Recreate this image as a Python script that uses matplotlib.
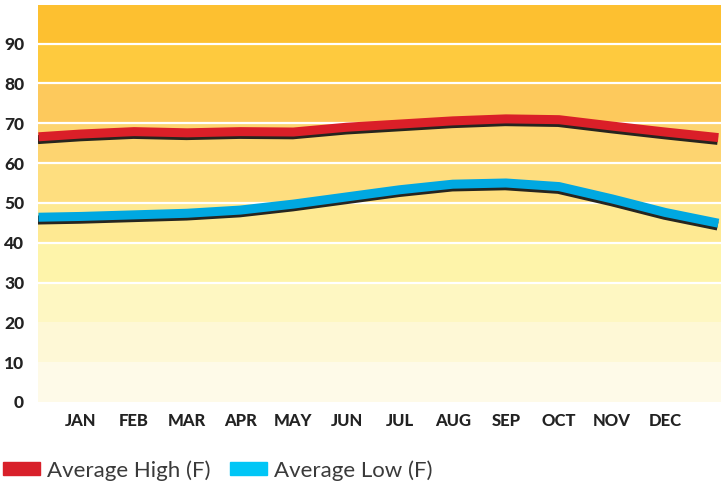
import numpy as np
import matplotlib.pyplot as plt
from matplotlib.patches import Patch
import matplotlib.patheffects as pe

months = ['JAN', 'FEB', 'MAR', 'APR', 'MAY', 'JUN', 'JUL', 'AUG', 'SEP', 'OCT', 'NOV', 'DEC']
# line runs from the left edge to the right edge; first/last values are the edge points
line_x = [-0.8, 0, 1, 2, 3, 4, 5, 6, 7, 8, 9, 10, 11, 12]
avg_high = [66.6, 67.3, 67.9, 67.6, 67.9, 67.8, 69.0, 69.8, 70.6, 71.1, 70.9, 69.3, 67.8, 66.4]
avg_low = [46.4, 46.6, 47.0, 47.4, 48.2, 49.7, 51.5, 53.3, 54.7, 55.0, 54.1, 51.0, 47.6, 44.9]

band_edges = [0, 10, 20, 30, 40, 50, 60, 70, 80, 90, 100]
band_colors = ['#fefae8', '#fef8d6', '#fef7c2', '#fef4aa', '#fee992', '#fede7f',
               '#fdd470', '#fdc95c', '#feca3e', '#fdc030']
grid_vals = [30, 40, 50, 60, 70, 80, 90]

fig = plt.figure(figsize=(7.22, 4.84), dpi=100)
ax = fig.add_axes([38 / 722, 1 - 402 / 484, 683 / 722, 397 / 484])

for i, c in enumerate(band_colors):
    ax.axhspan(band_edges[i], band_edges[i + 1], color=c, lw=0, zorder=0)
for g in grid_vals:
    ax.axhline(g, color='white', lw=1.6, zorder=1)

shadow = [pe.SimpleLineShadow(offset=(-0.5, -2.0), shadow_color='#1a1a1a', alpha=0.95), pe.Normal()]
ax.plot(line_x, avg_high, color='#da1f28', lw=6.5, solid_capstyle='butt',
        solid_joinstyle='round', path_effects=shadow, zorder=3)
ax.plot(line_x, avg_low, color='#00a8e1', lw=6.5, solid_capstyle='butt',
        solid_joinstyle='round', path_effects=shadow, zorder=3)

ax.set_xlim(-0.81, 12.05)
ax.set_ylim(0, 99.7)
ax.set_xticks(range(len(months)))
ax.set_xticklabels(months)
ax.set_yticks([0, 10, 20, 30, 40, 50, 60, 70, 80, 90])
ax.tick_params(length=0, labelcolor='#222222', labelsize=12)
ax.tick_params(axis='y', pad=10, labelsize=12.5)
ax.tick_params(axis='x', pad=8)
for lab in ax.get_xticklabels() + ax.get_yticklabels():
    lab.set_fontweight('black')
    lab.set_family('Lato')
for s in ax.spines.values():
    s.set_visible(False)

handles = [Patch(color='#d8202a'), Patch(color='#00c6f6')]
fig.legend(handles, ['Average High (F)', 'Average Low (F)'], loc='lower left',
           bbox_to_anchor=(0.0, 0.0), ncol=2, frameon=False,
           prop={'family': 'Lato', 'size': 16, 'weight': 'normal'}, labelcolor='#3a3a3a',
           handlelength=1.65, handleheight=0.5, handletextpad=0.3,
           columnspacing=0.9, borderaxespad=0.0, borderpad=0.15)

fig.savefig('out.png', dpi=100)
